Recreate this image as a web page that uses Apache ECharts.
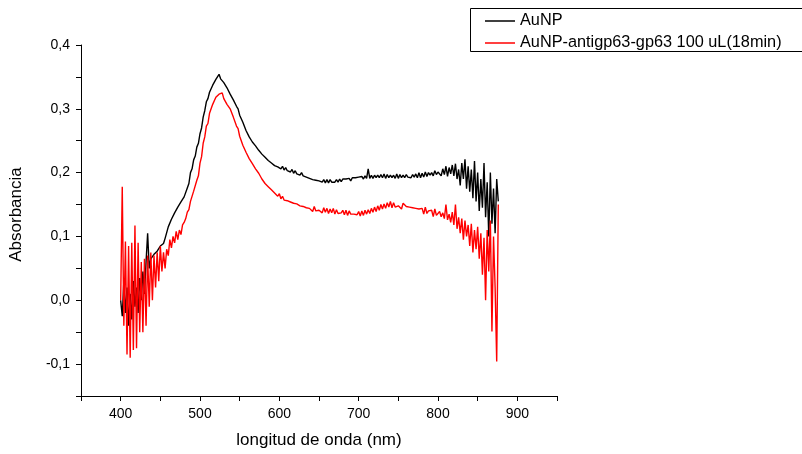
<!DOCTYPE html>
<html>
<head>
<meta charset="utf-8">
<script src="https://cdn.jsdelivr.net/npm/echarts@6/dist/echarts.min.js"></script>
<style>html,body{margin:0;padding:0;background:#fff}#c{width:802px;height:454px}</style>
</head>
<body>
<div id="c"></div>
<script>
const seriesNames = ['AuNP', 'AuNP-antigp63-gp63 100 uL(18min)'];
const xTitle = 'longitud de onda (nm)';
const yTitle = 'Absorbancia';

const wavelength = [
400,402,404,406,408,410,412,414,416,418,
420,422,424,426,428,430,432,434,436,438,
440,442,444,446,448,450,452,454,456,458,
460,462,464,466,468,470,472,474,476,478,
480,482,484,486,488,490,492,494,496,498,
500,502,504,506,508,510,512,514,516,518,
520,522,524,526,528,530,532,534,536,538,
540,542,544,546,548,550,552,554,556,558,
560,562,564,566,568,570,572,574,576,578,
580,582,584,586,588,590,592,594,596,598,
600,602,604,606,608,610,612,614,616,618,
620,622,624,626,628,630,632,634,636,638,
640,642,644,646,648,650,652,654,656,658,
660,662,664,666,668,670,672,674,676,678,
680,682,684,686,688,690,692,694,696,698,
700,702,704,706,708,710,712,714,716,718,
720,722,724,726,728,730,732,734,736,738,
740,742,744,746,748,750,752,754,756,758,
760,762,764,766,768,770,772,774,776,778,
780,782,784,786,788,790,792,794,796,798,
800,802,804,806,808,810,812,814,816,818,
820,822,824,826,828,830,832,834,836,838,
840,842,844,846,848,850,852,854,856,858,
860,862,864,866,868,870,872,874,876
];

const aunp = [
0.000,-0.025,0.03,-0.02,0.02,-0.04,0.01,-0.03,0.03,-0.01,
0.02,-0.02,0.035,0.0,0.045,0.01,0.06,0.105,0.05,0.065,
0.063,0.072,0.073,0.077,0.081,0.085,0.088,0.089,0.097,0.097,
0.115,0.117,0.127,0.127,0.137,0.136,0.146,0.145,0.154,0.153,
0.162,0.163,0.176,0.183,0.2,0.206,0.22,0.226,0.24,0.246,
0.261,0.27,0.287,0.297,0.311,0.316,0.326,0.329,0.337,0.338,
0.346,0.345,0.354,0.347,0.348,0.341,0.34,0.333,0.333,0.323,
0.322,0.314,0.313,0.304,0.3,0.29,0.288,0.279,0.277,0.266,
0.265,0.256,0.257,0.248,0.249,0.242,0.242,0.235,0.236,0.229,
0.231,0.224,0.226,0.219,0.221,0.215,0.218,0.211,0.214,0.209,
0.212,0.206,0.21,0.204,0.208,0.203,0.206,0.201,0.205,0.199,
0.203,0.198,0.201,0.196,0.2,0.195,0.197,0.193,0.195,0.191,
0.194,0.189,0.192,0.188,0.19,0.187,0.189,0.185,0.189,0.184,
0.189,0.184,0.189,0.185,0.188,0.185,0.189,0.185,0.19,0.186,
0.19,0.187,0.19,0.188,0.191,0.187,0.192,0.189,0.192,0.189,
0.193,0.19,0.194,0.19,0.195,0.191,0.206,0.191,0.196,0.191,
0.196,0.192,0.196,0.192,0.197,0.192,0.198,0.191,0.197,0.192,
0.196,0.192,0.196,0.191,0.198,0.191,0.197,0.192,0.196,0.192,
0.197,0.193,0.196,0.192,0.197,0.193,0.198,0.192,0.2,0.192,
0.199,0.193,0.201,0.194,0.2,0.196,0.2,0.195,0.203,0.197,
0.201,0.203,0.195,0.206,0.197,0.21,0.194,0.208,0.198,0.212,
0.195,0.214,0.19,0.205,0.18,0.215,0.19,0.221,0.175,0.21,
0.17,0.205,0.16,0.218,0.155,0.2,0.14,0.19,0.145,0.215,
0.13,0.185,0.1,0.2,0.12,0.175,0.105,0.19,0.155
];

const aunpAnti = [
0.0,0.178,-0.04,0.092,-0.085,0.085,-0.09,0.09,-0.078,0.117,
-0.075,0.09,-0.05,0.06,-0.05,0.065,-0.04,0.07,-0.01,0.075,
0.0,0.07,0.02,0.075,0.03,0.085,0.045,0.075,0.05,0.08,
0.07,0.095,0.082,0.1,0.09,0.108,0.095,0.11,0.103,0.118,
0.122,0.128,0.138,0.142,0.155,0.157,0.171,0.172,0.188,0.195,
0.215,0.225,0.246,0.256,0.273,0.277,0.293,0.295,0.307,0.307,
0.318,0.315,0.323,0.321,0.325,0.316,0.319,0.307,0.309,0.3,
0.298,0.287,0.286,0.273,0.269,0.257,0.257,0.243,0.244,0.232,
0.234,0.222,0.225,0.214,0.216,0.206,0.208,0.199,0.199,0.19,
0.193,0.183,0.186,0.178,0.181,0.173,0.175,0.168,0.17,0.163,
0.167,0.159,0.163,0.157,0.16,0.156,0.158,0.154,0.157,0.152,
0.155,0.151,0.153,0.148,0.15,0.147,0.149,0.145,0.147,0.144,
0.147,0.139,0.147,0.14,0.143,0.141,0.144,0.137,0.145,0.138,
0.144,0.136,0.143,0.137,0.144,0.135,0.142,0.136,0.139,0.137,
0.141,0.134,0.141,0.133,0.14,0.135,0.137,0.135,0.138,0.134,
0.139,0.132,0.14,0.133,0.141,0.135,0.142,0.136,0.144,0.138,
0.146,0.139,0.148,0.141,0.15,0.143,0.151,0.144,0.153,0.146,
0.155,0.145,0.153,0.146,0.149,0.148,0.15,0.143,0.152,0.155,
0.147,0.145,0.146,0.144,0.145,0.143,0.144,0.141,0.143,0.142,
0.144,0.135,0.146,0.136,0.14,0.138,0.141,0.131,0.143,0.133,
0.133,0.139,0.131,0.137,0.128,0.15,0.126,0.135,0.122,0.138,
0.118,0.15,0.112,0.13,0.105,0.128,0.095,0.125,0.1,0.118,
0.085,0.12,0.075,0.11,0.08,0.115,0.065,0.105,0.04,0.098,
0.0,0.11,0.045,0.125,-0.049,0.1,0.02,-0.096,0.15
];

const FONT = '"Liberation Sans", Arial, sans-serif';
function pairs(ys){ return wavelength.map((x,i)=>[x, ys[i]]); }

const chart = echarts.init(document.getElementById('c'), null, {renderer:'canvas'});
chart.setOption({
  animation: false,
  backgroundColor: '#fff',
  grid: {left: 81, right: 245, top: 45, bottom: 57, containLabel: false},
  legend: {
    orient: 'vertical', left: 485, top: 12, padding: 0,
    icon: 'rect', itemWidth: 30, itemHeight: 1.5, itemGap: 4,
    textStyle: {fontFamily: FONT, fontSize: 16.3, color: '#000', padding: [0,0,0,0], lineHeight: 18},
    data: seriesNames
  },
  graphic: [{
    type: 'rect', shape: {x: 470.5, y: 8.5, width: 340, height: 43},
    style: {fill: 'none', stroke: '#000', lineWidth: 1}, z: 100
  }],
  xAxis: {
    type: 'value', min: 350, max: 950, interval: 50,
    name: xTitle, nameLocation: 'middle', nameGap: 36,
    nameTextStyle: {fontFamily: FONT, fontSize: 17, color: '#000'},
    axisLine: {onZero: false, lineStyle: {color: '#000', width: 1}},
    axisTick: {length: 5, lineStyle: {color: '#000'}},
    axisLabel: {
      margin: 11, fontFamily: FONT, fontSize: 14, color: '#000',
      formatter: v => (Math.round(v) % 100 === 0 && v > 350 && v < 950) ? String(Math.round(v)) : ''
    },
    splitLine: {show: false}
  },
  yAxis: {
    type: 'value', min: -0.15, max: 0.4, interval: 0.05,
    name: yTitle, nameLocation: 'middle', nameGap: 56,
    nameTextStyle: {fontFamily: FONT, fontSize: 17, color: '#000', padding: [0, 0, 0, 12]},
    axisLine: {show: true, onZero: false, lineStyle: {color: '#000', width: 1}},
    axisTick: {show: true, length: 5, lineStyle: {color: '#000'}},
    axisLabel: {
      margin: 11, fontFamily: FONT, fontSize: 14, color: '#000',
      formatter: v => {
        const t = v * 10;
        if (Math.abs(t - Math.round(t)) > 1e-6) return '';
        return (Math.round(t) / 10).toFixed(1).replace('.', ',');
      }
    },
    splitLine: {show: false}
  },
  series: [
    {name: seriesNames[0], type: 'line', data: pairs(aunp), symbol: 'none',
     lineStyle: {color: '#000', width: 1.4}, itemStyle: {color: '#000'}},
    {name: seriesNames[1], type: 'line', data: pairs(aunpAnti), symbol: 'none',
     lineStyle: {color: '#ff0000', width: 1.4}, itemStyle: {color: '#ff0000'}}
  ]
});
</script>
</body>
</html>
